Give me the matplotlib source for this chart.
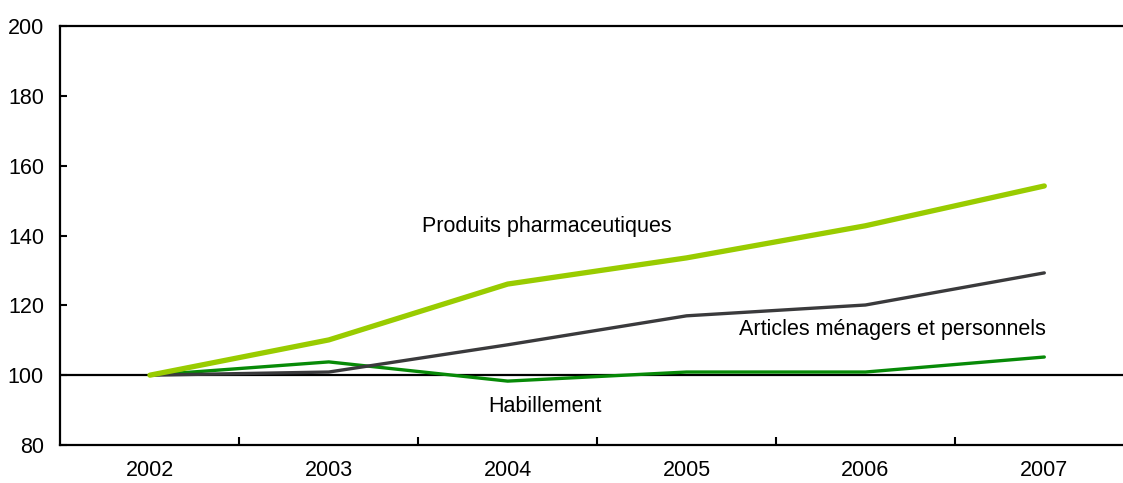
import matplotlib
matplotlib.use("Agg")
import matplotlib.pyplot as plt
import numpy as np

plt.rcParams['font.family'] = ['Liberation Sans', 'DejaVu Sans']

years = ['2002', '2003', '2004', '2005', '2006', '2007']
pharma = [100, 110.1, 126.1, 133.6, 142.8, 154.2]
articles = [100, 100.9, 108.7, 117.0, 120.1, 129.3]
habillement = [100, 103.8, 98.3, 100.9, 100.9, 105.2]

x = np.arange(len(years))

fig = plt.figure(figsize=(11.23, 4.83), dpi=100)
ax = fig.add_axes([0.0534, 0.0787, 0.9466, 0.8673])

ax.axhline(100, color='black', lw=1.6, zorder=1)
ax.plot(x, habillement, color='#078a07', lw=2.4, solid_capstyle='round', zorder=2)
ax.plot(x, articles, color='#3a3a3c', lw=2.4, solid_capstyle='round', zorder=2)
ax.plot(x, pharma, color='#99cc00', lw=3.8, solid_capstyle='round', zorder=3)

fs = 15.5
ax.text(2.22, 142.7, 'Produits pharmaceutiques', ha='center', va='center', fontsize=fs)
ax.text(5.01, 113, 'Articles ménagers et personnels', ha='right', va='center', fontsize=fs)
ax.text(2.21, 90.9, 'Habillement', ha='center', va='center', fontsize=fs)

ax.set_xlim(-0.503, 5.44)
ax.set_ylim(80, 200)
ax.set_yticks(range(80, 201, 20))
ax.set_xticks(x)
ax.set_xticklabels(years)
ax.set_xticks(x[:-1] + 0.5, minor=True)
ax.tick_params(axis='x', which='major', length=0, pad=11, labelsize=fs)
ax.tick_params(axis='x', which='minor', length=6, width=1.5, direction='in')
ax.tick_params(axis='y', length=5, width=1.5, direction='in', labelsize=fs, pad=11.5)

ax.spines['right'].set_visible(False)
for s in ['left', 'top', 'bottom']:
    ax.spines[s].set_linewidth(1.6)

fig.savefig('out.png', dpi=100)
